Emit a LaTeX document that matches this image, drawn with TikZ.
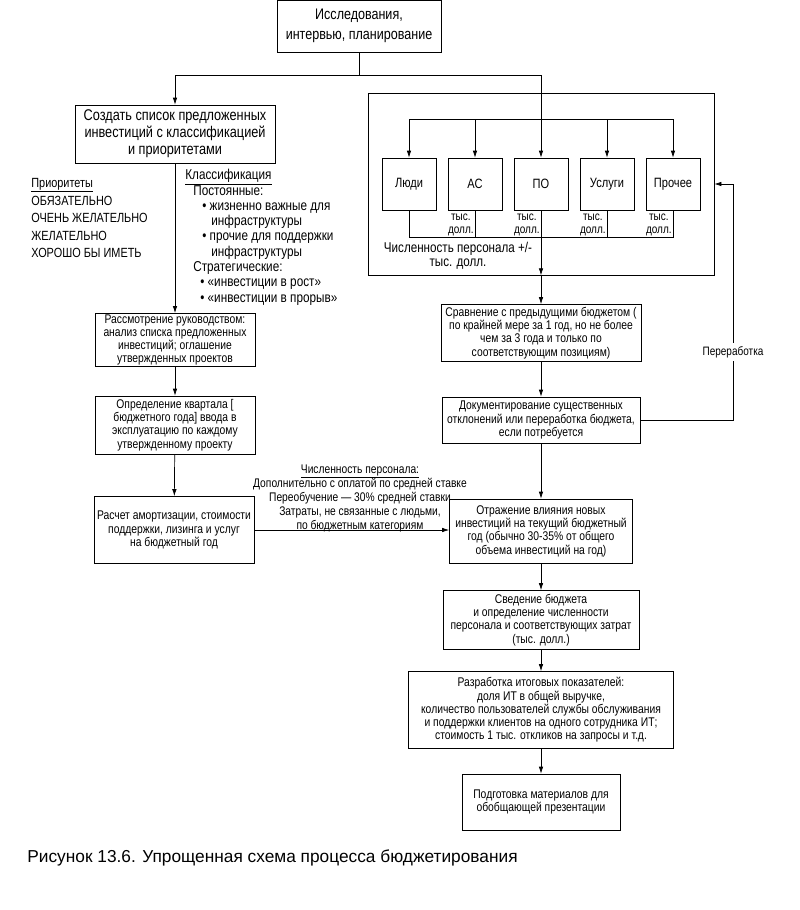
\documentclass[tikz,border=0pt]{standalone}
\usepackage{fontspec}
\setmainfont{Liberation Sans}[FakeStretch=0.82]
\newfontfamily\capfont{Liberation Sans}
\usetikzlibrary{arrows.meta}

\begin{document}
\begin{tikzpicture}[x=1pt,y=-1pt,line width=0.7pt,
  box/.style={draw,align=center,inner sep=1pt,font=\fontsize{12.6}{13.3}\selectfont},
  bigbox/.style={box,font=\fontsize{15.5}{17}\selectfont},
  catbox/.style={draw,minimum width=54pt,minimum height=52pt,inner sep=0pt,font=\fontsize{13.5}{14}\selectfont},
  unit/.style={align=center,inner sep=1pt,font=\fontsize{12.2}{12.5}\selectfont},
  note/.style={align=center,inner sep=0pt,font=\fontsize{12.5}{14}\selectfont},
  arr/.style={-{Latex[length=7pt,width=4.5pt]}}]
\useasboundingbox (0,0) rectangle (800,910);

% top of the scheme
\node[bigbox,minimum width=164pt,minimum height=52pt,font=\fontsize{15.3}{20}\selectfont] (plan) at (359,26) {Исследования,\\интервью, планирование};
\node[bigbox,minimum width=200pt,minimum height=58pt] (list) at (175,134) {Создать список предложенных\\инвестиций с классификацией\\и приоритетами};

% frame with budget categories
\node[draw,minimum width=346pt,minimum height=182pt] (frame) at (541,184) {};
\foreach \n/\x/\t in {people/409/Люди, hw/475/АС, sw/541/ПО, serv/607/Услуги, other/673/Прочее}
  \node[catbox] (\n) at (\x,184) {\t};

\coordinate (top) at (0,75);
\coordinate (dist) at (0,119);
\coordinate (coll) at (0,237);
\coordinate (ulev) at (0,225);
\coordinate (rework) at (733,0);

\draw (plan) -- (plan |- top);
\draw[arr] (plan |- top) -| (list);
\draw[arr] (plan |- top) -| (sw);
\draw (people |- dist) -- (other |- dist);
\foreach \n in {people,hw,serv,other}
  \draw[arr] (\n |- dist) -- (\n);
\draw (people.south) -- (people.south |- coll) -- (other.south |- coll) -- (other.south);
\foreach \n in {hw,sw,serv}
  \draw (\n.south) -- (\n.south |- coll);
\foreach \n in {hw,sw,serv,other}
  \node[unit,anchor=east] (\n-unit) at (\n.south |- ulev) {тыс.\\долл.};
\node[note,font=\fontsize{14.2}{14}\selectfont] (staffsum) at (458,256) {Численность персонала +/-\\тыс. долл.};

% left column
\node[anchor=north west,align=left,inner sep=0pt,font=\fontsize{13.3}{17.5}\selectfont] (prio) at (31,178)
  {\underline{Приоритеты}\\ОБЯЗАТЕЛЬНО\\ОЧЕНЬ ЖЕЛАТЕЛЬНО\\ЖЕЛАТЕЛЬНО\\ХОРОШО БЫ ИМЕТЬ};
\node[anchor=north west,align=left,inner sep=0pt,font=\fontsize{14.3}{15.3}\selectfont] (class) at (185,169)
  {\underline{Классификация}\\
   \hspace*{8pt}Постоянные:\\
   \hspace*{17pt}• жизненно важные для\\
   \hspace*{26pt}инфраструктуры\\
   \hspace*{17pt}• прочие для поддержки\\
   \hspace*{26pt}инфраструктуры\\
   \hspace*{8pt}Стратегические:\\
   \hspace*{15pt}• «инвестиции в рост»\\
   \hspace*{15pt}• «инвестиции в прорыв»};

\node[box,minimum width=160pt,minimum height=53pt] (review) at (175,340) {Рассмотрение руководством:\\анализ списка предложенных\\инвестиций; оглашение\\утвержденных проектов};
\node[box,minimum width=160pt,minimum height=58pt] (quarter) at (175,425) {Определение квартала [\\бюджетного года] ввода в\\эксплуатацию по каждому\\утвержденному проекту};
\node[box,minimum width=160pt,minimum height=67pt] (calc) at (174,530) {Расчет амортизации, стоимости\\поддержки, лизинга и услуг\\на бюджетный год};

\draw[arr] (list) -- (review);
\draw[arr] (review) -- (quarter);
\draw[arr] (quarter) -- (calc);

% right column
\node[box,minimum width=200pt,minimum height=57pt] (compare) at (541,333) {Сравнение с предыдущими бюджетом (\\по крайней мере за 1 год, но не более\\чем за 3 года и только по\\соответствующим позициям)};
\node[box,minimum width=198pt,minimum height=46pt] (docu) at (541,420) {Документирование существенных\\отклонений или переработка бюджета,\\если потребуется};
\node[box,minimum width=183pt,minimum height=64pt] (reflect) at (541,531) {Отражение влияния новых\\инвестиций на текущий бюджетный\\год (обычно 30-35\% от общего\\объема инвестиций на год)};
\node[box,minimum width=196pt,minimum height=59pt] (summary) at (541,620) {Сведение бюджета\\и определение численности\\персонала и соответствующих затрат\\(тыс. долл.)};
\node[box,minimum width=265pt,minimum height=77pt] (final) at (541,710) {Разработка итоговых показателей:\\доля ИТ в общей выручке,\\количество пользователей службы обслуживания\\и поддержки клиентов на одного сотрудника ИТ;\\стоимость 1 тыс. откликов на запросы и т.д.};
\node[box,minimum width=158pt,minimum height=56pt] (prep) at (541,802) {Подготовка материалов для\\обобщающей презентации};

\draw[arr] (sw.south |- coll) -- (sw.south |- frame.south);
\draw[arr] (sw |- frame.south) -- (compare);
\draw[arr] (compare) -- (docu);
\draw[arr] (docu) -- (reflect);
\draw[arr] (reflect) -- (summary);
\draw[arr] (summary) -- (final);
\draw[arr] (final) -- (prep);

% staff costs into the budget year
\draw[arr] (calc.east) -- (calc.east -| reflect.west);
\node[note] (staff) at (360,498) {\underline{Численность персонала:}\\Дополнительно с оплатой по средней ставке\\Переобучение — 30\% средней ставки\\Затраты, не связанные с людьми,\\по бюджетным категориям};

% rework loop
\draw[arr] (docu.east) -| (rework |- other) -- (frame.east |- other);
\node[note,fill=white,inner sep=3pt,font=\fontsize{12.2}{14}\selectfont] (reworklbl) at (733,352) {Переработка};

\node[anchor=west,inner sep=0pt,font=\capfont\fontsize{17.3}{20}\selectfont] (caption) at (27,858) {Рисунок 13.6. Упрощенная схема процесса бюджетирования};
\end{tikzpicture}
\end{document}
